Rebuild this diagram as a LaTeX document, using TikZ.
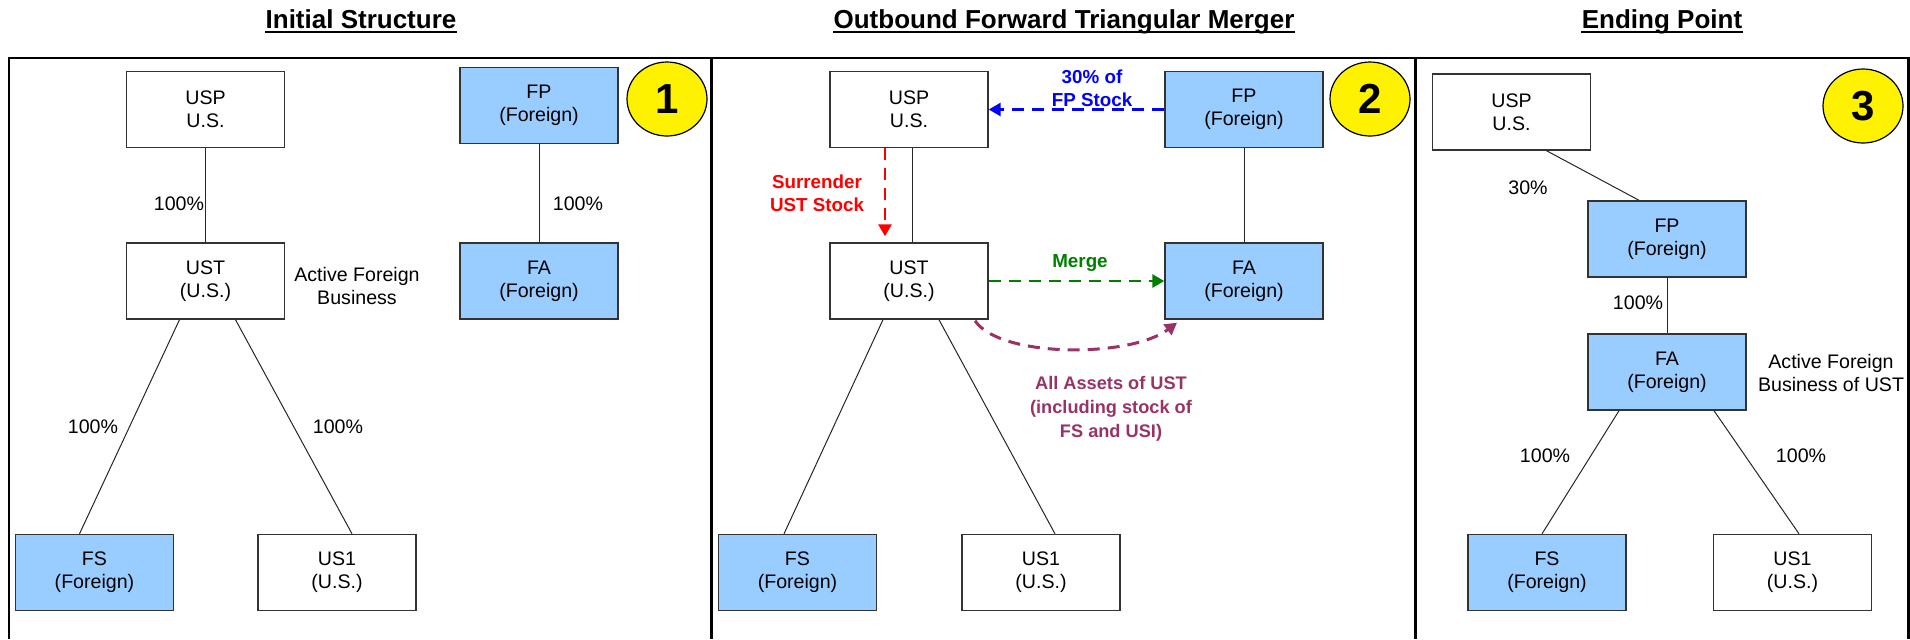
\documentclass[tikz,border=0pt]{standalone}
\usepackage{fontspec}
\setmainfont{Liberation Sans}
\usetikzlibrary{shapes.geometric,arrows.meta,calc}
\definecolor{boxblue}{HTML}{99CCFF}
\definecolor{plum}{HTML}{993366}
\definecolor{mgreen}{HTML}{008000}
\definecolor{frame}{HTML}{333333}
\tikzset{
 ent/.style={draw=frame, line width=0.7pt, minimum width=79pt, minimum height=38pt, inner sep=0pt, align=center, font=\fontsize{9.8}{11.5}\selectfont},
 forn/.style={ent, fill=boxblue},
 usco/.style={ent, fill=white},
 own/.style={line width=0.5pt, draw=black!85},
 pct/.style={font=\fontsize{9.8}{11.5}\selectfont, align=center, inner sep=0pt},
 badge/.style={ellipse, draw=black, line width=0.6pt, fill=yellow, minimum width=40pt, minimum height=37pt, inner sep=0pt, font=\fontsize{21}{21}\selectfont\bfseries},
 ttl/.style={font=\fontsize{13}{15}\selectfont\bfseries, inner sep=0pt, anchor=base},
 panel/.style={line width=1.2pt},
 flow/.style={line width=1.4pt, dash pattern=on 6pt off 4pt, -{Triangle[length=6pt,width=6.5pt]}},
 flowlbl/.style={font=\fontsize{9.4}{11.5}\selectfont\bfseries, align=center, inner sep=0pt},
}
\begin{document}
\begin{tikzpicture}[x=0.5pt,y=-0.5pt]
\useasboundingbox (0,0) rectangle (1910,639);
% panel frames
\draw[panel] (9,639) -- (9,58) -- (1908.5,58) -- (1908.5,639);
\draw[panel] (711.5,58) -- (711.5,639);
\draw[panel] (1415.5,58) -- (1415.5,639);
% titles
\node[ttl] (t1) at (361,28) {Initial Structure};
\node[ttl] (t2) at (1064,28) {Outbound Forward Triangular Merger};
\node[ttl] (t3) at (1662,28) {Ending Point};
\foreach \t in {t1,t2,t3}
  \draw[line width=1pt] ($(\t.base west)+(0,4)$) -- ($(\t.base east)+(0,4)$);
% ---------- panel 1
\node[usco] (USPa) at (205.5,109.5) {USP\\U.S.};
\node[forn] (FPa) at (539,105.5) {FP\\(Foreign)};
\node[usco] (USTa) at (205.5,281) {UST\\(U.S.)};
\node[forn] (FAa) at (539,281) {FA\\(Foreign)};
\node[forn] (FSa) at (94.5,572.5) {FS\\(Foreign)};
\node[usco] (USa) at (337,572.5) {US1\\(U.S.)};
\node[badge] (b1) at (667,99) {1};
\draw[own] (USPa) -- (USTa);
\draw[own] (FPa) -- (FAa);
\draw[own] ($(USTa.south)+(-26,0)$) -- ($(FSa.north)+(-15,0)$);
\draw[own] ($(USTa.south)+(30,0)$) -- ($(USa.north)+(15,0)$);
\node[pct] (p1a) at (179,204) {100\%};
\node[pct] (p1b) at (578,204) {100\%};
\node[pct] (p1c) at (93,427) {100\%};
\node[pct] (p1d) at (338,427) {100\%};
\node[pct] (afb1) at (357,286) {Active Foreign\\Business};
% ---------- panel 2
\node[usco] (USPb) at (909,109.5) {USP\\U.S.};
\node[forn] (FPb) at (1244,109.5) {FP\\(Foreign)};
\node[usco] (USTb) at (909,281) {UST\\(U.S.)};
\node[forn] (FAb) at (1244,281) {FA\\(Foreign)};
\node[forn] (FSb) at (797.5,572.5) {FS\\(Foreign)};
\node[usco] (USb) at (1041,572.5) {US1\\(U.S.)};
\node[badge] (b2) at (1370,99) {2};
\draw[own] ($(USPb.south)+(3,0)$) -- ($(USTb.north)+(3,0)$);
\draw[own] (FPb) -- (FAb);
\draw[own] ($(USTb.south)+(-26,0)$) -- ($(FSb.north)+(-13.5,0)$);
\draw[own] ($(USTb.south)+(30,0)$) -- ($(USb.north)+(14,0)$);
\draw[flow, blue] (FPb.west) -- (USPb.east);
\draw[flow, red, shorten >=3pt] ($(USPb.south)+(-24,0)$) -- ($(USTb.north)+(-24,0)$);
\draw[flow, mgreen] (USTb.east) -- (FAb.west);
\draw[flow, plum, line width=1.5pt] ($(USTb.south)+(66,1)$) .. controls (1000,358) and (1130,358) .. ($(FAb.south)+(-67,3)$);
\node[flowlbl, text=blue] (l30) at (1092,88) {30\% of\\FP Stock};
\node[flowlbl, text=red] (lsur) at (817,193) {Surrender\\UST Stock};
\node[flowlbl, text=mgreen] (lmer) at (1080,263) {Merge};
\node[flowlbl, text=plum, font=\fontsize{9.1}{12}\selectfont\bfseries] (lall) at (1111,409) {All Assets of UST\\(including stock of\\FS and USI)};
% ---------- panel 3
\node[usco] (USPc) at (1511.5,112) {USP\\U.S.};
\node[forn] (FPc) at (1667,239) {FP\\(Foreign)};
\node[forn] (FAc) at (1667,372) {FA\\(Foreign)};
\node[forn] (FSc) at (1547,572.5) {FS\\(Foreign)};
\node[usco] (USc) at (1792.5,572.5) {US1\\(U.S.)};
\node[badge] (b3) at (1863,106) {3};
\draw[own] ($(USPc.south)+(35,0)$) -- ($(FPc.north)+(-28,0)$);
\draw[own] (FPc) -- (FAc);
\draw[own] ($(FAc.south)+(-48,0)$) -- ($(FSc.north)+(-5,0)$);
\draw[own] ($(FAc.south)+(47,0)$) -- ($(USc.north)+(6.5,0)$);
\node[pct] (p3a) at (1528,188) {30\%};
\node[pct] (p3b) at (1638,303) {100\%};
\node[pct] (p3c) at (1545,456) {100\%};
\node[pct] (p3d) at (1801,456) {100\%};
\node[pct] (afb3) at (1831,373) {Active Foreign\\Business of UST};
\end{tikzpicture}
\end{document}
